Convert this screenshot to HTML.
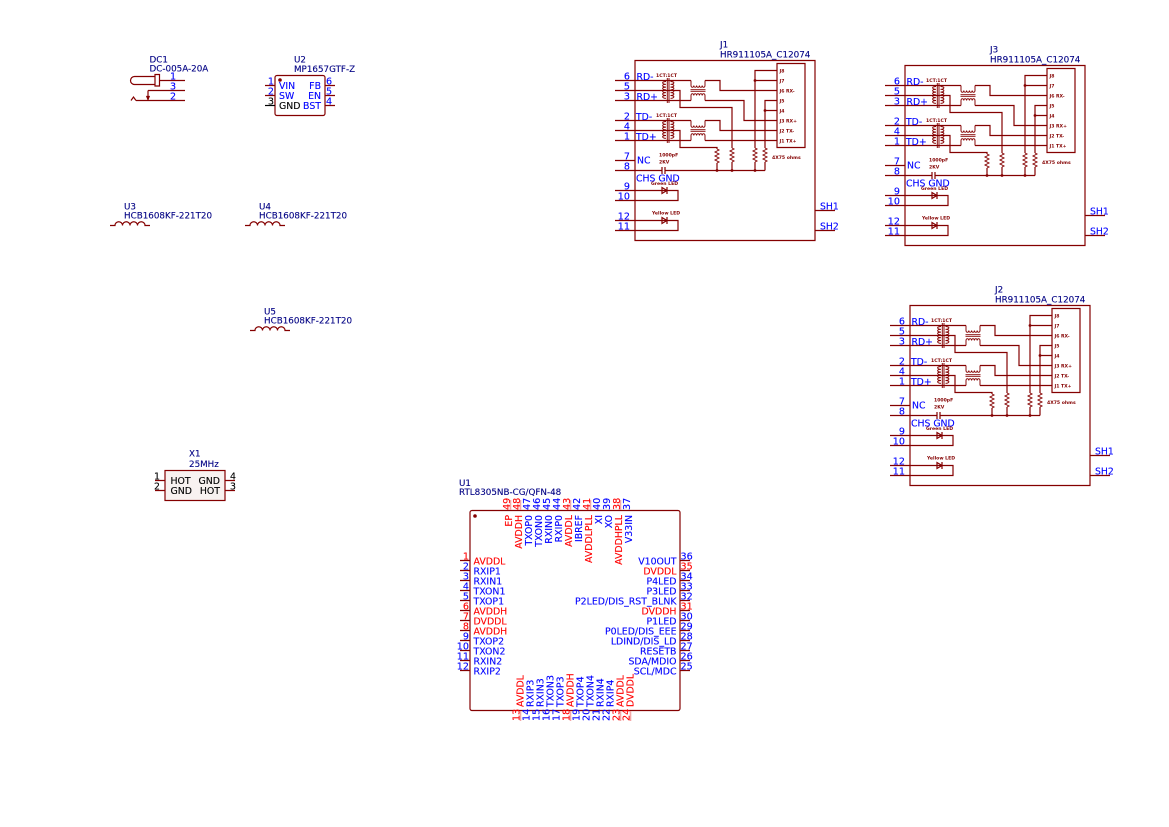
<!DOCTYPE html>
<html><head><meta charset="utf-8"><style>
html,body{margin:0;padding:0;background:#fff}
svg{display:block;filter:blur(.3px)}
text{font-family:"DejaVu Sans","Liberation Sans",sans-serif;font-size:8.8px;stroke-width:.12}
.l{fill:#000084;stroke:#000084;font-size:8.75px}
.b{fill:#0000ff;stroke:#0000ff;font-size:9.4px}
.r{fill:#ff0000;stroke:#ff0000;font-size:9.4px}
.k{fill:#000;stroke:#000;font-size:9.4px}
.p{fill:#0000ff;stroke:#0000ff;font-size:9.6px}
.q{fill:#ff0000;stroke:#ff0000;font-size:9.6px}
.j{fill:#0000ff;stroke:#0000ff;font-size:9.3px}
.s{fill:#840000;font-size:4.6px;font-weight:bold}
.e{text-anchor:end}
.g{fill:none;stroke:#840000;stroke-width:1.2}
.c{fill:none;stroke:#840000;stroke-width:.95}
</style></head><body>
<svg width="1169" height="827" viewBox="0 0 1169 827" xmlns="http://www.w3.org/2000/svg">
<defs>
<g id="jg">
<path class="g" d="M635 60.5H815V240.5H635Z M777 63.5H805V147.5H777Z"/>
<path class="g" d="M615 80.5H691 M615 100.5H691 M615 90.5H680V107.5H732V148 M732 162V170.5
M615 120.5H691 M615 140.5H691 M615 130.5H680V147.5H717V149 M717 163V170.5
M705 80.5H720V90.5H777 M705 100.5H744V120.5H777 M705 120.5H720V130.5H777 M705 140.5H777
M777 70.5H755V148 M755 162V170.5 M755 80.5H777 M777 100.5H765V148 M765 162V170.5 M765 110.5H777
M615 160.5H635 M615 170.5H662 M665 170.5H765 M662 167V174 M665 167V174
M815 210.5H835 M815 230.5H835
M615 190.5H678V200.5H615 M662 187.5V193.5L667 190.5Z M667 187V194
M615 220.5H678V230.5H615 M662 217.5V223.5L667 220.5Z M667 217V224"/>
<path class="c" d="M732 148l2 1-4 2 4 2-4 2 4 2-4 2 4 2-2 1 M717 149l2 1-4 2 4 2-4 2 4 2-4 2 4 2-2 1 M755 148l2 1-4 2 4 2-4 2 4 2-4 2 4 2-2 1 M765 148l2 1-4 2 4 2-4 2 4 2-4 2 4 2-2 1"/>
<g id="tr">
<path class="c" d="M667.3 78V103 M669 78V103
M666 81.5a3.4 1.4 0 0 0 0 2.8a3.4 1.4 0 0 0 0 2.8a3.4 1.4 0 0 0 0 2.8a3.4 1.4 0 0 0 0 2.8a3.4 1.4 0 0 0 0 2.8a3.4 1.4 0 0 0 0 2.8
M670.5 81.5a3.4 1.4 0 0 1 0 2.8a3.4 1.4 0 0 1 0 2.8a3.4 1.4 0 0 1 0 2.8a3.4 1.4 0 0 1 0 2.8a3.4 1.4 0 0 1 0 2.8a3.4 1.4 0 0 1 0 2.8
M691 80.5V85.5 M705 80.5V85.5 M691 100.5V95.5 M705 100.5V95.5
M691 85.5a1.4 1.8 0 0 0 2.8 0a1.4 1.8 0 0 0 2.8 0a1.4 1.8 0 0 0 2.8 0a1.4 1.8 0 0 0 2.8 0a1.4 1.8 0 0 0 2.8 0
M691 95.5a1.4 1.8 0 0 1 2.8 0a1.4 1.8 0 0 1 2.8 0a1.4 1.8 0 0 1 2.8 0a1.4 1.8 0 0 1 2.8 0a1.4 1.8 0 0 1 2.8 0
M690.5 89.7H705.5 M690.5 91.3H705.5"/>
</g>
<use href="#tr" y="40"/>
<g fill="#840000"><circle cx="755" cy="80.5" r="1.4"/><circle cx="765" cy="110.5" r="1.4"/><circle cx="717" cy="170.5" r="1.4"/><circle cx="732" cy="170.5" r="1.4"/><circle cx="755" cy="170.5" r="1.4"/></g>
</g>
</defs>

<!-- DC1 -->
<path class="g" d="M155 76.5H134.5A4 4 0 0 0 134.5 84.5H155 M155 74.5H159.5V86H155Z M159.5 80.5H185 M148 90.5H185 M148 90.5V100.5 M146.8 96.5H149.2L148 99.5Z M136 100.5H185 M136 100.5L133.5 97L131 100.5"/>
<text class="l" x="149.5" y="62.7">DC1</text>
<text class="l" x="149.5" y="71.7">DC-005A-20A</text>
<text class="p" x="170" y="79.7">1</text><text class="p" x="170" y="89.7">3</text><text class="p" x="170" y="99.7">2</text>

<!-- U2 -->
<rect class="g" x="275" y="75.5" width="50" height="40" rx="2"/>
<circle cx="280" cy="80" r="1.8" fill="#840000"/>
<path class="g" d="M265 85.5H275 M265 95.5H275 M325 85.5H335 M325 95.5H335 M325 105.5H335"/>
<path d="M265 105.5H275" stroke="#000" stroke-width="1.2"/>
<text class="l" x="294" y="62.7">U2</text><text class="l" x="294" y="72">MP1657GTF-Z</text>
<text class="p e" x="274" y="84.5">1</text><text class="p e" x="274" y="94.5">2</text><text class="k e" x="274" y="104.5">3</text>
<text class="p" x="326" y="84.5">6</text><text class="p" x="326" y="94.5">5</text><text class="p" x="326" y="104.5">4</text>
<text class="b" x="279" y="89">VIN</text><text class="b" x="279" y="99">SW</text><text class="k" x="279" y="109">GND</text>
<text class="b e" x="321" y="89">FB</text><text class="b e" x="321" y="99">EN</text><text class="b e" x="321" y="109">BST</text>

<!-- U3 U4 U5 -->
<g id="coil"><path class="g" d="M110 225.5H115a3.75 3.75 0 0 1 7.5 0a3.75 3.75 0 0 1 7.5 0a3.75 3.75 0 0 1 7.5 0a3.75 3.75 0 0 1 7.5 0H150"/></g>
<use href="#coil" x="135"/>
<use href="#coil" x="140" y="105"/>
<text class="l" x="124" y="209.3">U3</text><text class="l" x="124" y="218.3">HCB1608KF-221T20</text>
<text class="l" x="259" y="209.3">U4</text><text class="l" x="259" y="218.3">HCB1608KF-221T20</text>
<text class="l" x="264" y="314.3">U5</text><text class="l" x="264" y="323.3">HCB1608KF-221T20</text>

<!-- X1 -->
<rect x="165" y="470.5" width="60" height="30" class="g" style="fill:#f8f2f0"/>
<path class="g" d="M155 480.5H165 M155 490.5H165 M225 480.5H235 M225 490.5H235"/>
<text class="l" x="189" y="456.7">X1</text><text class="l" x="189" y="467">25MHz</text>
<text class="k e" x="160" y="479.5">1</text><text class="k e" x="160" y="489.5">2</text>
<text class="k" x="230" y="479.5">4</text><text class="k" x="230" y="489.5">3</text>
<text class="k" x="170.5" y="484">HOT</text><text class="k" x="170.5" y="494">GND</text>
<text class="k e" x="220" y="484">GND</text><text class="k e" x="220" y="494">HOT</text>

<!-- J1 -->
<use href="#jg"/>
<g>
<text class="l" x="720" y="47.7">J1</text><text class="l" x="720" y="57.3">HR911105A_C12074</text>
<text class="p e" x="630" y="79.5">6</text><text class="p e" x="630" y="89.5">5</text><text class="p e" x="630" y="99.5">3</text><text class="p e" x="630" y="119.5">2</text><text class="p e" x="630" y="129.5">4</text><text class="p e" x="630" y="139.5">1</text><text class="p e" x="630" y="159.5">7</text><text class="p e" x="630" y="169.5">8</text><text class="p e" x="630" y="189.5">9</text><text class="p e" x="630" y="199.5">10</text><text class="p e" x="630" y="219.5">12</text><text class="p e" x="630" y="229.5">11</text>
<text class="j" x="636.5" y="80">RD-</text><text class="j" x="636.5" y="100">RD+</text><text class="j" x="636" y="120">TD-</text><text class="j" x="636" y="140">TD+</text><text class="j" x="637" y="163.5">NC</text><text class="j" x="636" y="181.7">CHS GND</text>
<text class="j" x="820" y="209.5">SH1</text><text class="j" x="820" y="229.5">SH2</text>
<text class="s" x="656" y="77">1CT:1CT</text><text class="s" x="656" y="117">1CT:1CT</text>
<text class="s" x="779.5" y="72.5">J8</text><text class="s" x="779.5" y="82.5">J7</text><text class="s" x="779.5" y="92.5">J6 RX-</text><text class="s" x="779.5" y="102.5">J5</text><text class="s" x="779.5" y="112.5">J4</text><text class="s" x="779.5" y="122.5">J3 RX+</text><text class="s" x="779.5" y="132.5">J2 TX-</text><text class="s" x="779.5" y="142.5">J1 TX+</text>
<text class="s" x="659" y="156.7">1000pF</text><text class="s" x="659" y="163.3">2KV</text><text class="s" x="772" y="159">4X75 ohms</text><text class="s" x="651" y="185">Green LED</text><text class="s" x="652" y="214.5">Yellow LED</text>
</g>

<!-- J3 -->
<use href="#jg" x="270" y="5"/>
<g transform="translate(270 5)">
<text class="l" x="720" y="47.7">J3</text><text class="l" x="720" y="57.3">HR911105A_C12074</text>
<text class="p e" x="630" y="79.5">6</text><text class="p e" x="630" y="89.5">5</text><text class="p e" x="630" y="99.5">3</text><text class="p e" x="630" y="119.5">2</text><text class="p e" x="630" y="129.5">4</text><text class="p e" x="630" y="139.5">1</text><text class="p e" x="630" y="159.5">7</text><text class="p e" x="630" y="169.5">8</text><text class="p e" x="630" y="189.5">9</text><text class="p e" x="630" y="199.5">10</text><text class="p e" x="630" y="219.5">12</text><text class="p e" x="630" y="229.5">11</text>
<text class="j" x="636.5" y="80">RD-</text><text class="j" x="636.5" y="100">RD+</text><text class="j" x="636" y="120">TD-</text><text class="j" x="636" y="140">TD+</text><text class="j" x="637" y="163.5">NC</text><text class="j" x="636" y="181.7">CHS GND</text>
<text class="j" x="820" y="209.5">SH1</text><text class="j" x="820" y="229.5">SH2</text>
<text class="s" x="656" y="77">1CT:1CT</text><text class="s" x="656" y="117">1CT:1CT</text>
<text class="s" x="779.5" y="72.5">J8</text><text class="s" x="779.5" y="82.5">J7</text><text class="s" x="779.5" y="92.5">J6 RX-</text><text class="s" x="779.5" y="102.5">J5</text><text class="s" x="779.5" y="112.5">J4</text><text class="s" x="779.5" y="122.5">J3 RX+</text><text class="s" x="779.5" y="132.5">J2 TX-</text><text class="s" x="779.5" y="142.5">J1 TX+</text>
<text class="s" x="659" y="156.7">1000pF</text><text class="s" x="659" y="163.3">2KV</text><text class="s" x="772" y="159">4X75 ohms</text><text class="s" x="651" y="185">Green LED</text><text class="s" x="652" y="214.5">Yellow LED</text>
</g>

<!-- J2 -->
<use href="#jg" x="275" y="245"/>
<g transform="translate(275 245)">
<text class="l" x="720" y="47.7">J2</text><text class="l" x="720" y="57.3">HR911105A_C12074</text>
<text class="p e" x="630" y="79.5">6</text><text class="p e" x="630" y="89.5">5</text><text class="p e" x="630" y="99.5">3</text><text class="p e" x="630" y="119.5">2</text><text class="p e" x="630" y="129.5">4</text><text class="p e" x="630" y="139.5">1</text><text class="p e" x="630" y="159.5">7</text><text class="p e" x="630" y="169.5">8</text><text class="p e" x="630" y="189.5">9</text><text class="p e" x="630" y="199.5">10</text><text class="p e" x="630" y="219.5">12</text><text class="p e" x="630" y="229.5">11</text>
<text class="j" x="636.5" y="80">RD-</text><text class="j" x="636.5" y="100">RD+</text><text class="j" x="636" y="120">TD-</text><text class="j" x="636" y="140">TD+</text><text class="j" x="637" y="163.5">NC</text><text class="j" x="636" y="181.7">CHS GND</text>
<text class="j" x="820" y="209.5">SH1</text><text class="j" x="820" y="229.5">SH2</text>
<text class="s" x="656" y="77">1CT:1CT</text><text class="s" x="656" y="117">1CT:1CT</text>
<text class="s" x="779.5" y="72.5">J8</text><text class="s" x="779.5" y="82.5">J7</text><text class="s" x="779.5" y="92.5">J6 RX-</text><text class="s" x="779.5" y="102.5">J5</text><text class="s" x="779.5" y="112.5">J4</text><text class="s" x="779.5" y="122.5">J3 RX+</text><text class="s" x="779.5" y="132.5">J2 TX-</text><text class="s" x="779.5" y="142.5">J1 TX+</text>
<text class="s" x="659" y="156.7">1000pF</text><text class="s" x="659" y="163.3">2KV</text><text class="s" x="772" y="159">4X75 ohms</text><text class="s" x="651" y="185">Green LED</text><text class="s" x="652" y="214.5">Yellow LED</text>
</g>

<!-- U1 -->
<rect class="g" x="470" y="510.5" width="210" height="200" rx="2"/>
<circle cx="475" cy="516" r="1.8" fill="#840000"/>
<path class="g" d="M460 560.5H470M460 570.5H470M460 580.5H470M460 590.5H470M460 600.5H470M460 610.5H470M460 620.5H470M460 630.5H470M460 640.5H470M460 650.5H470M460 660.5H470M460 670.5H470
M680 560.5H690M680 570.5H690M680 580.5H690M680 590.5H690M680 600.5H690M680 610.5H690M680 620.5H690M680 630.5H690M680 640.5H690M680 650.5H690M680 660.5H690M680 670.5H690"/>
<path d="M510.5 500V510M520.5 500V510M570.5 500V510M590.5 500V510M620.5 500V510M520.5 711V721M570.5 711V721M620.5 711V721M630.5 711V721" stroke="#f4a8a8" stroke-width="1.6" fill="none"/>
<text class="l" x="459" y="486">U1</text><text class="l" x="459" y="495">RTL8305NB-CG/QFN-48</text>
<!-- left -->
<text class="q e" x="469" y="559.5">1</text><text class="p e" x="469" y="569.5">2</text><text class="p e" x="469" y="579.5">3</text><text class="p e" x="469" y="589.5">4</text><text class="p e" x="469" y="599.5">5</text><text class="q e" x="469" y="609.5">6</text><text class="q e" x="469" y="619.5">7</text><text class="q e" x="469" y="629.5">8</text><text class="p e" x="469" y="639.5">9</text><text class="p e" x="469" y="649.5">10</text><text class="p e" x="469" y="659.5">11</text><text class="p e" x="469" y="669.5">12</text>
<text class="r" x="473.5" y="564.5">AVDDL</text><text class="b" x="473.5" y="574.5">RXIP1</text><text class="b" x="473.5" y="584.5">RXIN1</text><text class="b" x="473.5" y="594.5">TXON1</text><text class="b" x="473.5" y="604.5">TXOP1</text><text class="r" x="473.5" y="614.5">AVDDH</text><text class="r" x="473.5" y="624.5">DVDDL</text><text class="r" x="473.5" y="634.5">AVDDH</text><text class="b" x="473.5" y="644.5">TXOP2</text><text class="b" x="473.5" y="654.5">TXON2</text><text class="b" x="473.5" y="664.5">RXIN2</text><text class="b" x="473.5" y="674.5">RXIP2</text>
<!-- right -->
<text class="p" x="680.5" y="559.5">36</text><text class="q" x="680.5" y="569.5">35</text><text class="p" x="680.5" y="579.5">34</text><text class="p" x="680.5" y="589.5">33</text><text class="p" x="680.5" y="599.5">32</text><text class="q" x="680.5" y="609.5">31</text><text class="p" x="680.5" y="619.5">30</text><text class="p" x="680.5" y="629.5">29</text><text class="p" x="680.5" y="639.5">28</text><text class="p" x="680.5" y="649.5">27</text><text class="p" x="680.5" y="659.5">26</text><text class="p" x="680.5" y="669.5">25</text>
<text class="b e" x="676.5" y="564.5">V10OUT</text><text class="r e" x="676.5" y="574.5">DVDDL</text><text class="b e" x="676.5" y="584.5">P4LED</text><text class="b e" x="676.5" y="594.5">P3LED</text><text class="b e" x="676.5" y="604.5">P2LED/DIS_RST_BLNK</text><text class="r e" x="676.5" y="614.5">DVDDH</text><text class="b e" x="676.5" y="624.5">P1LED</text><text class="b e" x="676.5" y="634.5">P0LED/DIS_EEE</text><text class="b e" x="676.5" y="644.5">LDIND/DIS_LD</text><text class="b e" x="676.5" y="654.5">RESETB</text><text class="b e" x="676.5" y="664.5">SDA/MDIO</text><text class="b e" x="676.5" y="674.5">SCL/MDC</text>
<!-- top numbers -->
<text class="q" transform="translate(510 510) rotate(-90)">49</text><text class="q" transform="translate(520 510) rotate(-90)">48</text><text class="p" transform="translate(530 510) rotate(-90)">47</text><text class="p" transform="translate(540 510) rotate(-90)">46</text><text class="p" transform="translate(550 510) rotate(-90)">45</text><text class="p" transform="translate(560 510) rotate(-90)">44</text><text class="q" transform="translate(570 510) rotate(-90)">43</text><text class="p" transform="translate(580 510) rotate(-90)">42</text><text class="q" transform="translate(590 510) rotate(-90)">41</text><text class="p" transform="translate(600 510) rotate(-90)">40</text><text class="p" transform="translate(610 510) rotate(-90)">39</text><text class="q" transform="translate(620 510) rotate(-90)">38</text><text class="p" transform="translate(630 510) rotate(-90)">37</text>
<!-- top names -->
<text class="r e" transform="translate(512 515) rotate(-90)">EP</text><text class="r e" transform="translate(522 515) rotate(-90)">AVDDH</text><text class="b e" transform="translate(532 515) rotate(-90)">TXOP0</text><text class="b e" transform="translate(542 515) rotate(-90)">TXON0</text><text class="b e" transform="translate(552 515) rotate(-90)">RXIN0</text><text class="b e" transform="translate(562 515) rotate(-90)">RXIP0</text><text class="r e" transform="translate(572 515) rotate(-90)">AVDDL</text><text class="b e" transform="translate(582 515) rotate(-90)">IBREF</text><text class="r e" transform="translate(592 515) rotate(-90)">AVDDLPLL</text><text class="b e" transform="translate(602 515) rotate(-90)">XI</text><text class="b e" transform="translate(612 515) rotate(-90)">XO</text><text class="r e" transform="translate(622 515) rotate(-90)">AVDDHPLL</text><text class="b e" transform="translate(632 515) rotate(-90)">V33IN</text>
<!-- bottom numbers -->
<text class="q" transform="translate(519.5 721) rotate(-90)">13</text><text class="p" transform="translate(529.5 721) rotate(-90)">14</text><text class="p" transform="translate(539.5 721) rotate(-90)">15</text><text class="p" transform="translate(549.5 721) rotate(-90)">16</text><text class="p" transform="translate(559.5 721) rotate(-90)">17</text><text class="q" transform="translate(569.5 721) rotate(-90)">18</text><text class="p" transform="translate(579.5 721) rotate(-90)">19</text><text class="p" transform="translate(589.5 721) rotate(-90)">20</text><text class="p" transform="translate(599.5 721) rotate(-90)">21</text><text class="p" transform="translate(609.5 721) rotate(-90)">22</text><text class="q" transform="translate(619.5 721) rotate(-90)">23</text><text class="q" transform="translate(629.5 721) rotate(-90)">24</text>
<!-- bottom names -->
<text class="r" transform="translate(523.5 707) rotate(-90)">AVDDL</text><text class="b" transform="translate(533.5 707) rotate(-90)">RXIP3</text><text class="b" transform="translate(543.5 707) rotate(-90)">RXIN3</text><text class="b" transform="translate(553.5 707) rotate(-90)">TXON3</text><text class="b" transform="translate(563.5 707) rotate(-90)">TXOP3</text><text class="r" transform="translate(573.5 707) rotate(-90)">AVDDH</text><text class="b" transform="translate(583.5 707) rotate(-90)">TXOP4</text><text class="b" transform="translate(593.5 707) rotate(-90)">TXON4</text><text class="b" transform="translate(603.5 707) rotate(-90)">RXIN4</text><text class="b" transform="translate(613.5 707) rotate(-90)">RXIP4</text><text class="r" transform="translate(623.5 707) rotate(-90)">AVDDL</text><text class="r" transform="translate(633.5 707) rotate(-90)">DVDDL</text>
</svg>
</body></html>
